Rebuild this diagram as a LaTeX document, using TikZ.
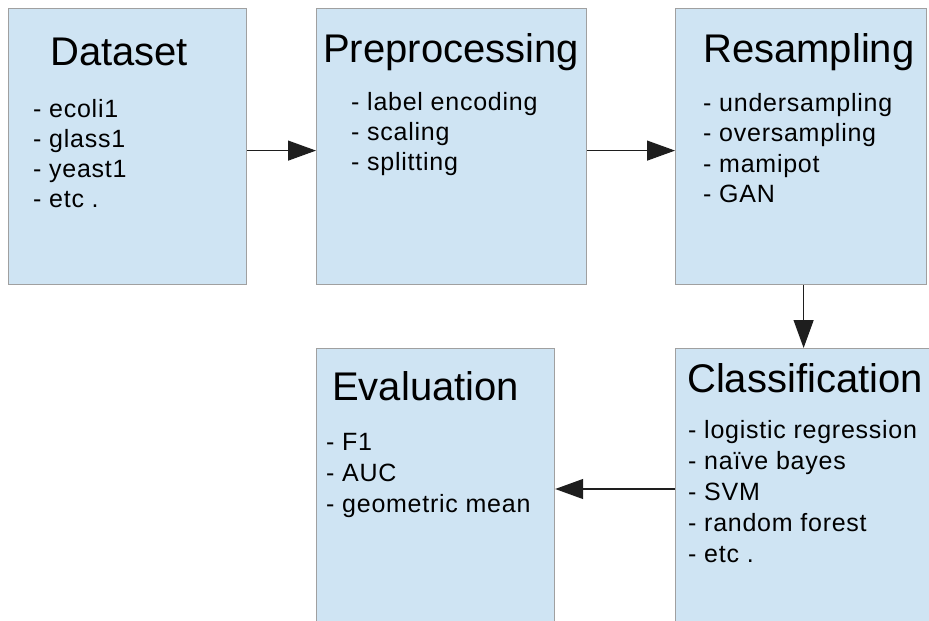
\documentclass[tikz,border=0pt]{standalone}
\usepackage{fontspec}
\setmainfont{Liberation Sans}
\newfontfamily\itemfont[LetterSpace=3]{Liberation Sans}
\usetikzlibrary{arrows.meta}
\definecolor{boxfill}{RGB}{207,228,243}
\definecolor{boxline}{RGB}{160,160,160}
\definecolor{arrline}{RGB}{30,30,30}
\tikzset{
  box/.style={draw=boxline, fill=boxfill, line width=1.2pt, rectangle, anchor=north west, inner sep=0pt},
  title/.style={anchor=base west, inner sep=0pt, font=\fontsize{40}{48}\selectfont},
  item/.style={anchor=base west, inner sep=0pt, font=\itemfont\fontsize{25}{30}\selectfont},
  arr/.style={draw=arrline, line width=1.2pt, -{Triangle[length=28pt,width=20pt]}}
}
\begin{document}
\begin{tikzpicture}[x=1pt,y=-1pt]
\useasboundingbox (0,0) rectangle (929,621);
\clip (0,0) rectangle (929,621);
% boxes
\node[box, minimum width=238pt, minimum height=276pt] (dataset) at (8,8) {};
\node[box, minimum width=270pt, minimum height=276pt] (prep) at (316,8) {};
\node[box, minimum width=251pt, minimum height=276pt] (resamp) at (675,8) {};
\node[box, minimum width=270pt, minimum height=300pt] (classif) at (675,348) {};
\node[box, minimum width=238pt, minimum height=300pt] (eval) at (316,348) {};
% titles
\node[title] (tds) at (50,65) {Dataset};
\node[title] (tpr) at (323,62) {Preprocessing};
\node[title] (trs) at (703,62) {Resampling};
\node[title] (tcl) at (687,392) {Classification};
\node[title] (tev) at (332,400) {Evaluation};
% items
\foreach \t [count=\i] in {ecoli1, glass1, yeast1, etc .}
  \node[item] (ds\i) at (33,{117+30*(\i-1)}) {- \t};
\foreach \t [count=\i] in {label encoding, scaling, splitting}
  \node[item] (pr\i) at (351,{110+30*(\i-1)}) {- \t};
\foreach \t [count=\i] in {undersampling, oversampling, mamipot, GAN}
  \node[item] (rs\i) at (703,{111+30.5*(\i-1)}) {- \t};
\foreach \t [count=\i] in {logistic regression, naïve bayes, SVM, random forest, etc .}
  \node[item] (cl\i) at (688,{438+31*(\i-1)}) {- \t};
\foreach \t [count=\i] in {F1, AUC, geometric mean}
  \node[item] (ev\i) at (326,{450+31*(\i-1)}) {- \t};
% connectors
\draw[arr] ([yshift=-4pt]dataset.east) -- ([yshift=-4pt]prep.west);
\draw[arr] ([yshift=-4pt]prep.east) -- ([yshift=-4pt]resamp.west);
\draw[arr] ([xshift=2.5pt]resamp.south) -- ([xshift=2.5pt]resamp.south |- classif.north);
\draw[arr] ([yshift=-141pt]classif.north west) -- ([yshift=-141pt]eval.north east);
\end{tikzpicture}
\end{document}
